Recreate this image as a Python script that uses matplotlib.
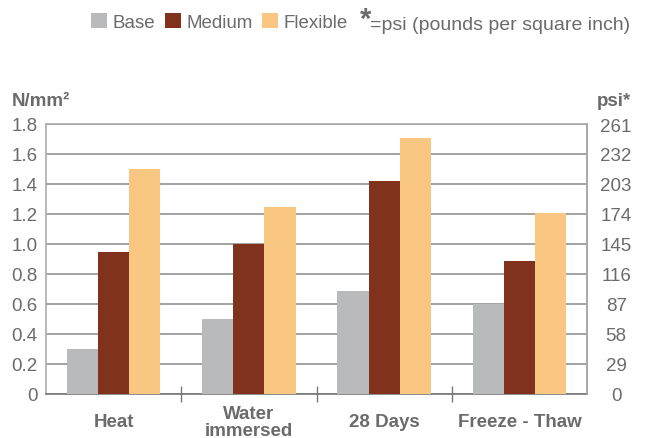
import matplotlib.pyplot as plt
import numpy as np

plt.rcParams['font.family'] = ['Liberation Sans', 'DejaVu Sans']

# data
categories = ['Heat', 'Water\nimmersed', '28 Days', 'Freeze - Thaw']
base = [0.30, 0.50, 0.69, 0.60]
medium = [0.95, 1.00, 1.42, 0.89]
flexible = [1.50, 1.25, 1.71, 1.21]
left_ticks = [0, 0.2, 0.4, 0.6, 0.8, 1.0, 1.2, 1.4, 1.6, 1.8]
left_labels = ['0', '0.2', '0.4', '0.6', '0.8', '1.0', '1.2', '1.4', '1.6', '1.8']
psi_ticks = [0, 29, 58, 87, 116, 145, 174, 203, 232, 261]

col_base = '#b9babb'
col_medium = '#80321c'
col_flex = '#f9c782'
txt = '#6b6b6b'

fig = plt.figure(figsize=(6.49, 4.39), dpi=100)
W, H = 649, 439
ax = fig.add_axes([46 / W, 1 - 395 / H, (587 - 46) / W, (395 - 125) / H])

x = np.arange(len(categories))
w = 0.23
b1 = ax.bar(x - w, base, w, color=col_base, label='Base', zorder=3)
b2 = ax.bar(x, medium, w, color=col_medium, label='Medium', zorder=3)
b3 = ax.bar(x + w, flexible, w, color=col_flex, label='Flexible', zorder=3)

ax.set_xlim(-0.5, len(categories) - 0.5)
ax.set_ylim(0, 1.8)
ax.set_yticks(left_ticks)
ax.set_yticklabels(left_labels)
ax.yaxis.grid(True, color='#8a8a8a', lw=1.1, zorder=1)
ax.tick_params(axis='y', length=0, pad=6, labelsize=13.5, labelcolor=txt)

ax.set_xticks(x)
ax.set_xticklabels(categories, fontweight='bold', fontsize=13.5, color=txt,
                   linespacing=1.0)
for lab in ax.get_xticklabels():
    lab.set_va('center')
ax.tick_params(axis='x', which='major', length=0, pad=20)
ax.set_xticks(x[:-1] + 0.5, minor=True)
ax.tick_params(axis='x', which='minor', direction='inout', length=12,
               width=1, color='#777777')

for s in ['left', 'right', 'top']:
    ax.spines[s].set_color('#a6a6a6')
    ax.spines[s].set_linewidth(1.1)
ax.spines['bottom'].set_color('#777777')
ax.spines['bottom'].set_linewidth(1.2)

ax2 = ax.twinx()
ax2.set_ylim(0, 261)
ax2.set_yticks(psi_ticks)
ax2.set_yticklabels([str(v) for v in psi_ticks], ha='center')
ax2.tick_params(axis='y', length=0, pad=21, labelsize=13.5, labelcolor=txt)
for s in ['left', 'top', 'bottom']:
    ax2.spines[s].set_visible(False)
ax2.spines['right'].set_color('#a6a6a6')
ax2.spines['right'].set_linewidth(1.1)

fig.text(12 / W, 1 - 101 / H, 'N/mm²', fontsize=13.5, fontweight='bold',
         color=txt, va='center', ha='left')
fig.text(631 / W, 1 - 101 / H, 'psi*', fontsize=13.5, fontweight='bold',
         color=txt, va='center', ha='right')

fig.legend(handles=[b1, b2, b3], loc='center left',
           bbox_to_anchor=(91 / W, 1 - 23 / H), ncol=3, frameon=False,
           handlelength=0.85, handleheight=0.85, handletextpad=0.3,
           columnspacing=0.5, borderpad=0, borderaxespad=0,
           prop={'size': 13.5}, labelcolor=txt)
fig.text(360 / W, 1 - 20 / H, '*', fontsize=21, fontweight='bold',
         color=txt, va='center', ha='left')
fig.text(370 / W, 1 - 26 / H, '=psi (pounds per square inch)', fontsize=14,
         color=txt, va='center', ha='left')

fig.savefig('out.png', dpi=100)
